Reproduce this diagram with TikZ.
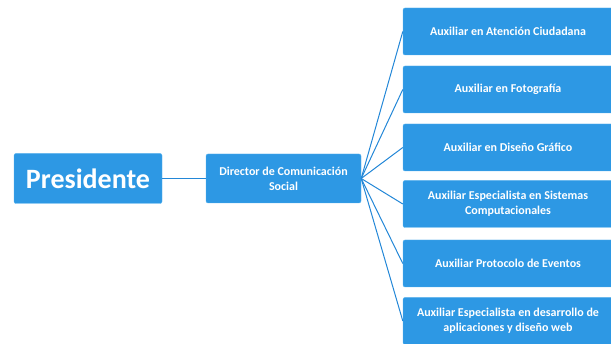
\documentclass[tikz,border=0pt]{standalone}
\usepackage{fontspec}
\setmainfont{Carlito}
\usetikzlibrary{positioning}
\definecolor{boxblue}{RGB}{45,152,228}
\definecolor{edgeblue}{RGB}{85,178,238}
\definecolor{lineblue}{RGB}{35,135,215}
\tikzset{
  box/.style={draw=edgeblue, fill=boxblue, rounded corners=2pt, text=white,
    font=\bfseries\fontsize{12}{15}\selectfont, align=center, inner sep=2pt},
  link/.style={lineblue, line width=1pt}
}
\begin{document}
\begin{tikzpicture}[x=1pt,y=-1pt]
\useasboundingbox (0,0) rectangle (611,344);
\node[box, minimum width=148, minimum height=50, font=\bfseries\fontsize{28}{30}\selectfont] (pres) at (88,178.5) {Presidente};
\node[box, minimum width=155, minimum height=49] (dir) at (283.5,178.5) {Director de Comunicación\\Social};
% auxiliares
\foreach \name/\y/\txt in {a1/31.5/{Auxiliar en Atención Ciudadana},
  a2/89.5/{Auxiliar en Fotografía},
  a3/147.5/{Auxiliar en Diseño Gráfico},
  a4/204/{Auxiliar Especialista en Sistemas\\Computacionales},
  a5/263.5/{Auxiliar Protocolo de Eventos},
  a6/321/{Auxiliar Especialista en desarrollo de\\aplicaciones y diseño web}}
{
  \node[box, minimum width=210, minimum height=47] (\name) at (508,\y) {\txt};
  \draw[link] (dir.east) -- (\name.west);
}
\draw[link] (pres) -- (dir);
\end{tikzpicture}
\end{document}
